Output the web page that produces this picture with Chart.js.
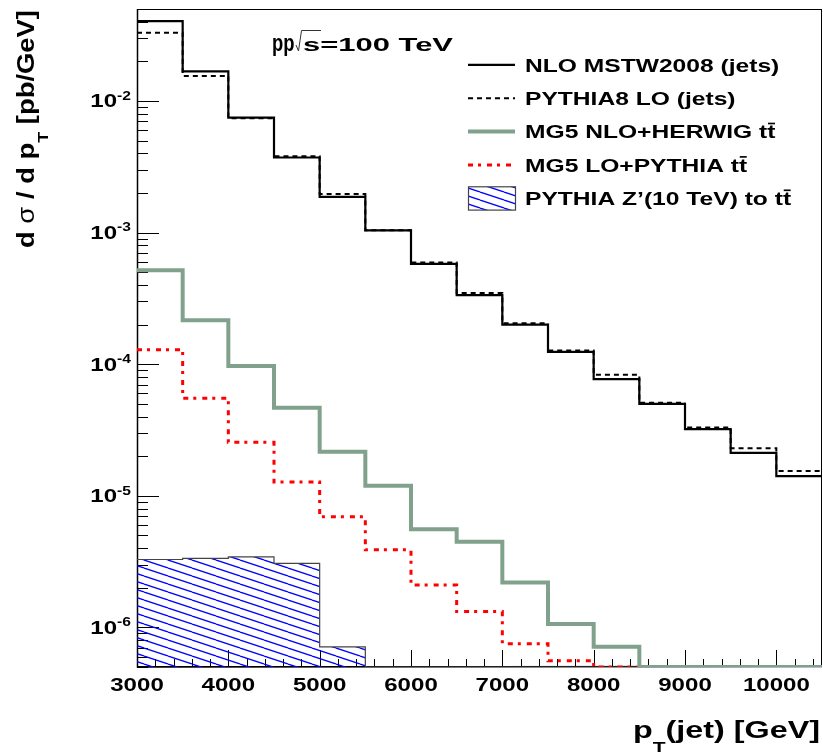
<!DOCTYPE html>
<html>
<head>
<meta charset="utf-8">
<script src="https://cdn.jsdelivr.net/npm/chart.js@4.4.1/dist/chart.umd.min.js"></script>
<style>
  html, body { margin: 0; padding: 0; background: #fff; }
  #wrap { width: 823px; height: 755px; }
</style>
</head>
<body>
<div id="wrap"><canvas id="xsChart"></canvas></div>
<script>
// bin edges in GeV (500 GeV bins)
const binEdges = [3000, 3500, 4000, 4500, 5000, 5500, 6000, 6500, 7000, 7500, 8000, 8500, 9000, 9500, 10000, 10500];

// d sigma / d pT [pb/GeV], one value per bin (0 = empty / below range)
const nloJets    = [0.0405, 0.0168, 0.00748, 0.00372, 0.00187, 0.00104, 5.78e-4, 3.35e-4, 2.0e-4, 1.24e-4, 7.7e-5, 5.0e-5, 3.21e-5, 2.12e-5, 1.41e-5];
const pythiaJets = [0.033, 0.0155, 0.0074, 0.0038, 0.00196, 0.00104, 5.93e-4, 3.47e-4, 2.05e-4, 1.27e-4, 8.3e-5, 5.1e-5, 3.3e-5, 2.3e-5, 1.54e-5];
const mg5NloTT   = [5.18e-4, 2.16e-4, 9.7e-5, 4.67e-5, 2.16e-5, 1.19e-5, 5.56e-6, 4.48e-6, 2.19e-6, 1.06e-6, 7.14e-7, 0, 0, 0, 0];
const mg5LoTT    = [1.29e-4, 5.5e-5, 2.55e-5, 1.27e-5, 6.93e-6, 3.89e-6, 2.1e-6, 1.32e-6, 7.5e-7, 5.57e-7, 0, 0, 0, 0, 0];
const zprimeTT   = [3.28e-6, 3.35e-6, 3.43e-6, 3.07e-6, 7.1e-7, 0, 0, 0, 0, 0, 0, 0, 0, 0, 0];

const seriesLabels = ['NLO MSTW2008 (jets)', 'PYTHIA8 LO (jets)', 'MG5 NLO+HERWIG tt\u0304', 'MG5 LO+PYTHIA tt\u0304', 'PYTHIA Z\u2019(10 TeV) to tt\u0304'];

const xTickLabels = ['3000', '4000', '5000', '6000', '7000', '8000', '9000', '10000'];
const yTickExponents = [-6, -5, -4, -3, -2];

const Y_MIN = 5e-7, Y_MAX = 5e-2;
const X_MIN = 3000, X_MAX = 10500;
const FONT = '"Liberation Sans", Arial, Helvetica, sans-serif';

function histPoints(values) {
  const pts = values.map((v, i) => ({ x: binEdges[i], y: Math.max(v, Y_MIN) }));
  pts.push({ x: binEdges[values.length], y: Math.max(values[values.length - 1], Y_MIN) });
  return pts;
}

// split "tt̄" style labels into segments, a char followed by U+0304 gets a bar
function labelSegs(str) {
  const segs = [];
  str.split(/(.\u0304)/).forEach(p => {
    if (!p) return;
    if (p.length === 2 && p[1] === '\u0304') segs.push({ t: p[0], bar: true });
    else segs.push({ t: p });
  });
  return segs;
}

// draws text pieces with sub/superscripts, stretched horizontally by sx (or fit to opts.width)
function drawRich(ctx, segs, x, y, size, opts) {
  opts = opts || {};
  const fontOf = s => (s.light ? '' : 'bold ') + ((s.sub || s.sup) ? size * 0.65 : size) + 'px ' + FONT;
  let natural = 0;
  segs.forEach(s => { ctx.font = fontOf(s); s._w = ctx.measureText(s.t).width; natural += s._w; });
  const sx = opts.width ? opts.width / natural : (opts.sx || 1);
  const total = natural * sx;
  let cx = opts.align === 'right' ? x - total : opts.align === 'center' ? x - total / 2 : x;
  segs.forEach(s => {
    const dy = s.sub ? size * 0.6 : s.sup ? -size * 0.42 : 0;
    ctx.save();
    ctx.translate(cx, y + dy);
    ctx.scale(sx, 1);
    ctx.font = fontOf(s);
    ctx.fillText(s.t, 0, 0);
    if (s.bar) {
      ctx.strokeStyle = ctx.fillStyle;
      ctx.lineWidth = size * 0.09;
      ctx.beginPath();
      ctx.moveTo(s._w * 0.1, -size * 0.8);
      ctx.lineTo(s._w * 0.95, -size * 0.8);
      ctx.stroke();
    }
    ctx.restore();
    cx += s._w * sx;
  });
  return total;
}

const canvas = document.getElementById('xsChart');
const mainCtx = canvas.getContext('2d');

function makeHatch() {
  const c = document.createElement('canvas');
  c.width = 24; c.height = 8;
  const g = c.getContext('2d');
  g.strokeStyle = '#0000ff';
  g.lineWidth = 1.3;
  g.beginPath();
  [-8, 0, 8].forEach(dy => { g.moveTo(0, dy); g.lineTo(24, dy + 8); });
  g.stroke();
  return mainCtx.createPattern(c, 'repeat');
}
const hatch = makeHatch();

const GREEN = 'rgb(128,162,140)';

const datasets = [
  { label: seriesLabels[0], data: histPoints(nloJets), borderColor: '#000', borderWidth: 2.2 },
  { label: seriesLabels[1], data: histPoints(pythiaJets), borderColor: '#000', borderWidth: 2, borderDash: [5, 4] },
  { label: seriesLabels[2], data: histPoints(mg5NloTT), borderColor: GREEN, borderWidth: 4 },
  { label: seriesLabels[3], data: histPoints(mg5LoTT), borderColor: '#ff0000', borderWidth: 3, borderDash: [5, 5, 3, 6] },
  { label: seriesLabels[4], data: histPoints(zprimeTT), borderColor: '#444', borderWidth: 1.2, backgroundColor: hatch, fill: 'start' }
].map(d => Object.assign({ stepped: true, pointRadius: 0, pointHoverRadius: 0, fill: false, tension: 0 }, d));

const decorPlugin = {
  id: 'decor',
  // frame and ticks go under the histograms, like ROOT draws lines over the axis
  beforeDatasetsDraw(chart) {
    const ctx = chart.ctx;
    const xs = chart.scales.x, ys = chart.scales.y;
    const { left, right, top, bottom } = chart.chartArea;
    ctx.save();
    ctx.strokeStyle = '#000';
    ctx.lineWidth = 1;
    ctx.strokeRect(left + 0.5, top + 0.5, right - left - 1, bottom - top - 1);
    ctx.lineWidth = 1.5;
    ctx.beginPath();
    ctx.moveTo(left + 0.5, top); ctx.lineTo(left + 0.5, bottom);
    ctx.lineTo(right, bottom - 0.5);
    ctx.stroke();

    ctx.lineWidth = 1;
    ctx.beginPath();
    for (let e = -7; e <= -2; e++) {
      for (let m = 1; m <= 9; m++) {
        const v = m * Math.pow(10, e);
        if (v < Y_MIN || v > Y_MAX) continue;
        const py = Math.round(ys.getPixelForValue(v)) + 0.5;
        ctx.moveTo(left, py);
        ctx.lineTo(left + (m === 1 ? 22 : 11), py);
      }
    }
    for (let v = X_MIN + 200; v < X_MAX; v += 200) {
      const px = Math.round(xs.getPixelForValue(v)) + 0.5;
      ctx.moveTo(px, bottom);
      ctx.lineTo(px, bottom - (v % 1000 === 0 ? 17 : 8));
    }
    ctx.stroke();
    ctx.restore();
  },
  afterDraw(chart) {
    const ctx = chart.ctx;
    const xs = chart.scales.x, ys = chart.scales.y;
    ctx.save();
    ctx.fillStyle = '#000';
    ctx.textBaseline = 'alphabetic';

    // tick labels
    xTickLabels.forEach(t => {
      drawRich(ctx, [{ t }], xs.getPixelForValue(Number(t)), 691, 18.5, { sx: 1.3, align: 'center' });
    });
    yTickExponents.forEach(e => {
      const py = ys.getPixelForValue(Math.pow(10, e));
      drawRich(ctx, [{ t: '10' }, { t: String(e), sup: true }], 131, py + 6.5, 18.5, { sx: 1.3, align: 'right' });
    });

    // axis titles
    drawRich(ctx, [{ t: 'p' }, { t: 'T', sub: true }, { t: '(jet) [GeV]' }], 633, 738, 23, { width: 187 });
    ctx.save();
    ctx.translate(34, 248);
    ctx.rotate(-Math.PI / 2);
    drawRich(ctx, [{ t: 'd ' }, { t: '\u03c3', light: true }, { t: ' / d p' }, { t: 'T', sub: true }, { t: ' [pb/GeV]' }], 0, 0, 23, { width: 238 });
    ctx.restore();

    // pp sqrt(s) label
    drawRich(ctx, [{ t: 'pp' }], 272, 51, 23, { sx: 0.8 });
    ctx.lineWidth = 1;
    ctx.strokeStyle = '#333';
    ctx.beginPath();
    ctx.moveTo(296, 45); ctx.lineTo(298.5, 51); ctx.lineTo(301.5, 30.5); ctx.lineTo(321, 30.5);
    ctx.stroke();
    drawRich(ctx, [{ t: 's=100 TeV' }], 303, 51, 18, { width: 150 });

    // legend
    const x0 = 468, x1 = 515;
    chart.data.datasets.forEach((ds, i) => {
      const base = 71.5 + i * 33.4;
      const cy = base - 6.7;
      ctx.save();
      if (ds.fill) {
        ctx.fillStyle = ds.backgroundColor;
        ctx.fillRect(x0, base - 18.3, x1 - x0, 23.3);
        ctx.strokeStyle = ds.borderColor;
        ctx.lineWidth = 1.2;
        ctx.strokeRect(x0 + 0.5, base - 18.3, x1 - x0, 23.3);
      } else {
        ctx.strokeStyle = ds.borderColor;
        ctx.lineWidth = ds.borderWidth;
        ctx.setLineDash(ds.borderDash || []);
        ctx.beginPath();
        ctx.moveTo(x0, cy); ctx.lineTo(x1, cy);
        ctx.stroke();
      }
      ctx.restore();
      drawRich(ctx, labelSegs(ds.label), 525, base, 18.5, { sx: 1.33 });
    });
    ctx.restore();
  }
};

new Chart(canvas, {
  type: 'line',
  data: { datasets },
  options: {
    responsive: true,
    maintainAspectRatio: false,
    animation: false,
    devicePixelRatio: 1,
    layout: { padding: { top: 9, right: 1, left: 0, bottom: 0 } },
    plugins: { legend: { display: false }, tooltip: { enabled: false } },
    events: [],
    scales: {
      x: {
        type: 'linear', min: X_MIN, max: X_MAX,
        ticks: { display: false },
        grid: { display: false },
        border: { display: false },
        afterFit: s => { s.height = 88; }
      },
      y: {
        type: 'logarithmic', min: Y_MIN, max: Y_MAX,
        ticks: { display: false },
        grid: { display: false },
        border: { display: false },
        afterFit: s => { s.width = 137; }
      }
    }
  },
  plugins: [decorPlugin]
});
</script>
</body>
</html>
